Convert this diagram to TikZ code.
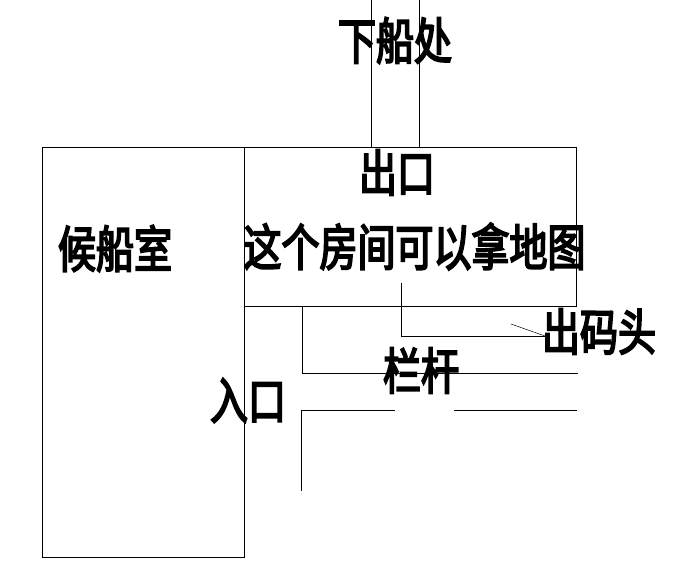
\documentclass[tikz,border=0pt]{standalone}
\usepackage{fontspec}
\newfontfamily\cjk{Noto Sans CJK SC}[FakeStretch=0.76,FakeBold=3.5]
\tikzset{lbl/.style={inner sep=0pt,font=\cjk\fontsize{50}{50}\selectfont},
ln/.style={line width=0.75pt,black}}
\begin{document}
\begin{tikzpicture}[x=1pt,y=-1pt]
\useasboundingbox (0,0) rectangle (680,578);
\coordinate (a1) at (371,0); \coordinate (a2) at (371,147.5);
\coordinate (b1) at (419,0); \coordinate (b2) at (419,147.5);
\draw[ln] (a1)--(a2);
\draw[ln] (b1)--(b2);
\draw[ln] (42,147.5) rectangle (244,557);
\draw[ln] (244,147.5) rectangle (576.5,306);
\draw[ln] (401.5,283)--(401.5,336)--(545,336);
\draw[line width=0.5pt] (511,324)--(545,336);
\draw[ln] (302.5,306)--(302.5,373)--(578,373);
\draw[ln] (301,491)--(301,410)--(395,410);
\draw[ln] (454,410)--(577,410);
\node[lbl] (n1) at (395,40.5) {下船处};
\node[lbl] (n2) at (397,172.5) {出口};
\node[lbl] (n3) at (115,248.5) {候船室};
\node[lbl] (n4) at (414.5,246.5) {这个房间可以拿地图};
\node[lbl] (n5) at (599,331.5) {出码头};
\node[lbl] (n6) at (421,370.5) {栏杆};
\node[lbl] (n7) at (248,400.5) {入口};
\end{tikzpicture}
\end{document}
